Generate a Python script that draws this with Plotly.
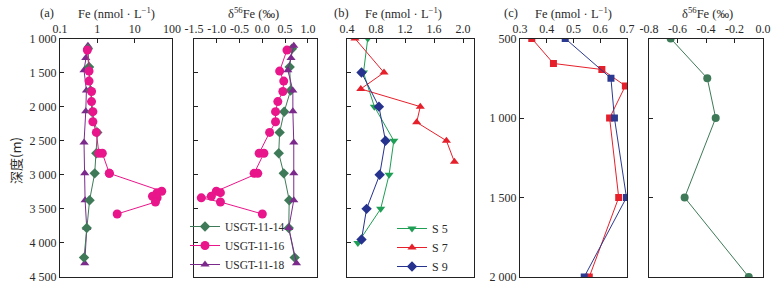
import plotly.graph_objects as go

W, H = 781, 291

# ---------------- Data ----------------
# Panel (a): three profiles (depth in m)
g14_depth = [1150, 1418, 1763, 2074, 2378, 2684, 2979, 3373, 3781, 4215]
g14_fe = [0.56, 0.60, 0.66, 0.72, 1.0, 0.94, 0.85, 0.62, 0.52, 0.44]
g14_d56 = [0.65, 0.60, 0.62, 0.48, 0.38, 0.36, 0.47, 0.59, 0.58, 0.71]

g16_depth = [1170, 1478, 1625, 1778, 1926, 2074, 2221, 2378, 2684, 2684,
             2979, 2979, 3241, 3262, 3315, 3338, 3400, 3575]
g16_fe = [0.54, 0.60, 0.60, 0.70, 0.70, 0.76, 0.76, 0.94, 1.1, 1.36,
          2.1, 2.1, 53, 40, 30, 40, 36, 3.4]
g16_d56 = [0.54, 0.38, 0.47, 0.45, 0.34, 0.29, 0.29, 0.16, -0.07, 0.035,
           -0.18, -0.10, -1.01, -0.92, -1.12, -1.34, -0.92, 0.0]

g18_depth = [1108, 1285, 1465, 1763, 2068, 2526, 2979, 3373, 3781, 4299]
g18_fe = [0.56, 0.49, 0.44, 0.51, 0.49, 0.44, 0.46, 0.47, 0.52, 0.46]
g18_d56 = [0.69, 0.63, 0.56, 0.67, 0.67, 0.69, 0.69, 0.69, 0.58, 0.75]

# Panel (b)
s5_depth = [1000, 1500, 2000, 2500, 3000, 3500, 4000]
s5_fe = [0.686, 0.627, 0.777, 1.045, 0.98, 0.864, 0.55]
s7_depth = [1000, 1500, 1740, 2000, 2230, 2500, 2810]
s7_fe = [0.51, 0.91, 0.59, 1.41, 1.36, 1.77, 1.88]
s9_depth = [1500, 2000, 2500, 3000, 3500, 3950]
s9_fe = [0.60, 0.84, 0.93, 0.85, 0.67, 0.60]

# Panel (c)
red_depth = [500, 657, 695, 798, 1000, 1500, 2000]
red_fe = [0.344, 0.425, 0.606, 0.694, 0.635, 0.669, 0.559]
blue_depth = [500, 750, 1000, 1500, 2000]
blue_fe = [0.469, 0.640, 0.653, 0.698, 0.540]
c_d56_depth = [500, 750, 1000, 1500, 2000]
c_d56 = [-0.648, -0.391, -0.332, -0.55, -0.10]

# Tick labels
depth_a_vals = [1000, 1500, 2000, 2500, 3000, 3500, 4000, 4500]
depth_a_text = ["1 000", "1 500", "2 000", "2 500", "3 000", "3 500", "4 000", "4 500"]
depth_c_vals = [500, 1000, 1500, 2000]
depth_c_text = ["500", "1 000", "1 500", "2 000"]
fe_a_vals = [0.1, 1, 10, 100]
fe_a_text = ["0.1", "1", "10", "100"]
d56_a_vals = [-1.5, -1.0, -0.5, 0.0, 0.5, 1.0]
d56_a_text = ["-1.5", "-1.0", "-0.5", "0.0", "0.5", "1.0"]
fe_b_vals = [0.4, 0.8, 1.2, 1.6, 2.0]
fe_b_text = ["0.4", "0.8", "1.2", "1.6", "2.0"]
fe_c_vals = [0.3, 0.4, 0.5, 0.6, 0.7]
fe_c_text = ["0.3", "0.4", "0.5", "0.6", "0.7"]
d56_c_vals = [-0.8, -0.6, -0.4, -0.2, 0.0]
d56_c_text = ["-0.8", "-0.6", "-0.4", "-0.2", "0.0"]

# ---------------- Styles ----------------
C14 = "#3e7a58"
C16 = "#e8168a"
C18 = "#7b2a8c"
CS5 = "#1f9e55"
CS7 = "#e5202b"
CS9 = "#25328e"
CRED = "#e5202b"
CBLUE = "#2b3990"
CCD = "#3e7a58"
SERIF = "Liberation Serif, Times New Roman, serif"
TXT = "#2a2a2a"

fig = go.Figure()

def add(x, y, xa, ya, color, symbol, name=None, legend=None, size=8):
    fig.add_trace(go.Scatter(
        x=x, y=y, xaxis=xa, yaxis=ya, mode="lines+markers",
        line=dict(color=color, width=1),
        marker=dict(color=color, symbol=symbol, size=size, line=dict(width=0)),
        name=name, showlegend=name is not None,
        legend=legend if legend else "legend",
    ))

# Panel (a) left (Fe log)
add(g18_fe, g18_depth, "x", "y", C18, "triangle-up")
add(g14_fe, g14_depth, "x", "y", C14, "diamond")
add(g16_fe, g16_depth, "x", "y", C16, "circle", size=9)
# Panel (a) right (d56Fe) with legend
add(g14_d56, g14_depth, "x2", "y2", C14, "diamond", "USGT-11-14", "legend")
add(g16_d56, g16_depth, "x2", "y2", C16, "circle", "USGT-11-16", "legend", size=9)
add(g18_d56, g18_depth, "x2", "y2", C18, "triangle-up", "USGT-11-18", "legend")
# Panel (b)
add(s5_fe, s5_depth, "x3", "y3", CS5, "triangle-down", "S 5", "legend2")
add(s7_fe, s7_depth, "x3", "y3", CS7, "triangle-up", "S 7", "legend2")
add(s9_fe, s9_depth, "x3", "y3", CS9, "diamond", "S 9", "legend2")
# Panel (c)
add(red_fe, red_depth, "x4", "y4", CRED, "square", size=7)
add(blue_fe, blue_depth, "x4", "y4", CBLUE, "square", size=7)
add(c_d56, c_d56_depth, "x5", "y5", CCD, "circle", size=8)

ydom = [1 - 277 / H, 1 - 38.5 / H]

def xax(left, right, **kw):
    d = dict(domain=[left / W, right / W], side="top", showline=True, mirror=True,
             linecolor="#222", linewidth=1, ticks="inside", ticklen=4, tickcolor="#222",
             showgrid=False, zeroline=False, tickfont=dict(family=SERIF, size=12, color=TXT),
             fixedrange=True, automargin=False)
    d.update(kw)
    return d

def yax(**kw):
    d = dict(domain=ydom, showline=True, mirror=True, linecolor="#222", linewidth=1,
             ticks="inside", ticklen=4, tickcolor="#222", showgrid=False, zeroline=False,
             tickfont=dict(family=SERIF, size=12, color=TXT), fixedrange=True,
             automargin=False)
    d.update(kw)
    return d

fig.update_layout(
    template="none",
    width=W, height=H, margin=dict(l=0, r=0, t=0, b=0, autoexpand=False),
    paper_bgcolor="white", plot_bgcolor="white",
    xaxis=xax(60, 172, type="log", range=[-1, 2], tickvals=fe_a_vals, ticktext=fe_a_text, anchor="y"),
    yaxis=yax(range=[4500, 1000], tickvals=depth_a_vals, ticktext=depth_a_text, anchor="x"),
    xaxis2=xax(194, 317, range=[-1.5, 1.2], tickvals=d56_a_vals, ticktext=d56_a_text, anchor="y2"),
    yaxis2=yax(range=[4500, 1000], tickvals=depth_a_vals, showticklabels=False, anchor="x2"),
    xaxis3=xax(347, 474, range=[0.4, 2.15], tickvals=fe_b_vals, ticktext=fe_b_text, anchor="y3"),
    yaxis3=yax(range=[4500, 1000], tickvals=depth_a_vals, showticklabels=False, anchor="x3"),
    xaxis4=xax(520, 627, range=[0.3, 0.7], tickvals=fe_c_vals, ticktext=fe_c_text, anchor="y4"),
    yaxis4=yax(range=[2000, 500], tickvals=depth_c_vals, ticktext=depth_c_text, anchor="x4"),
    xaxis5=xax(649, 763, range=[-0.8, 0.0], tickvals=d56_c_vals, ticktext=d56_c_text, anchor="y5"),
    yaxis5=yax(range=[2000, 500], tickvals=depth_c_vals, showticklabels=False, anchor="x5"),
    legend=dict(x=185 / W, y=1 - 212 / H, xanchor="left", yanchor="top",
                bgcolor="rgba(0,0,0,0)", font=dict(family=SERIF, size=11.5, color=TXT),
                tracegroupgap=0, itemwidth=30),
    legend2=dict(x=392 / W, y=1 - 214 / H, xanchor="left", yanchor="top",
                 bgcolor="rgba(0,0,0,0)", font=dict(family=SERIF, size=12, color=TXT),
                 tracegroupgap=0, itemwidth=30),
    showlegend=True,
)

ann_font = dict(family=SERIF, size=12.5, color=TXT)
anns = [
    ("(a)", 47), ("Fe (nmol · L<sup>−1</sup>)", 116), ("δ<sup>56</sup>Fe (‰)", 253),
    ("(b)", 341), ("Fe (nmol · L<sup>−1</sup>)", 403),
    ("(c)", 511), ("Fe (nmol · L<sup>−1</sup>)", 573), ("δ<sup>56</sup>Fe (‰)", 707),
]
for t, xp in anns:
    fig.add_annotation(text=t, x=xp / W, y=1 - 13 / H, xref="paper", yref="paper",
                       showarrow=False, font=ann_font, xanchor="center", yanchor="middle")
fig.add_annotation(text="深度(m)", x=15 / W, y=1 - 160 / H, xref="paper", yref="paper",
                   showarrow=False, textangle=-90,
                   font=dict(family="Noto Sans CJK SC, sans-serif", size=13, color=TXT),
                   xanchor="center", yanchor="middle")

fig.write_html("out.html",
               config={"displayModeBar": False, "staticPlot": True},
               post_script="document.body.style.margin='0';document.body.style.overflow='hidden';")
